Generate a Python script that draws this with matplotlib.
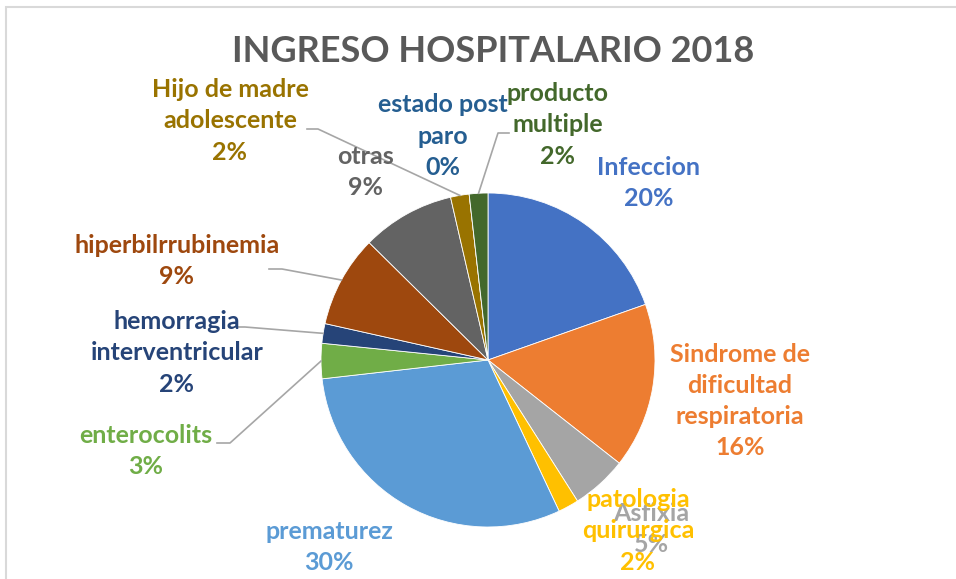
import numpy as np
import matplotlib
matplotlib.use('Agg')
import matplotlib.pyplot as plt
from matplotlib.patches import Rectangle

# Data (percentages, clockwise from 12 o'clock)
categories = ['Infeccion', 'Sindrome de\ndificultad\nrespiratoria', 'Asfixia',
              'patologia\nquirurgica', 'prematurez', 'enterocolits',
              'hemorragia\ninterventricular', 'hiperbilrrubinemia', 'otras',
              'Hijo de madre\nadolescente', 'estado post\nparo', 'producto\nmultiple']
values = [19.6, 16.0, 5.4, 2.0, 30.2, 3.4, 1.9, 8.9, 9.0, 1.8, 0.0, 1.8]
colors = ['#4472C4', '#ED7D31', '#A5A5A5', '#FFC000', '#5B9BD5', '#70AD47',
          '#264478', '#9E480E', '#636363', '#997300', '#255E91', '#43682B']

W, H = 956, 579

def Y(y):
    # convert pixel row (from top) to axis y
    return H - y

# label block centres in pixels (x, y from top)
label_pos = [(649, 183), (740, 401), (651, 529), (638, 531), (329, 547),
             (146, 451), (177, 353), (177, 261), (366, 172), (230, 121),
             (443, 136), (558, 125)]
# leader line start points (label side), None = no line
leader_start = [None, None, None, None, None,
                [(217, 443), (230, 443)],
                [(235, 327), (245, 327)],
                [(269, 269), (282, 269)],
                None,
                [(307, 129), (318, 129)],
                None,
                [(509, 133), (498, 133)]]

plt.rcParams['font.family'] = ['Lato', 'DejaVu Sans']

fig = plt.figure(figsize=(W / 100, H / 100), dpi=100)
ax = fig.add_axes([0, 0, 1, 1])

# chart frame
ax.add_patch(Rectangle((6, -10), W + 20, Y(7) + 10, fill=False,
                       edgecolor='#D9D9D9', linewidth=1.5))

cx, cy, r = 488, Y(360), 167
wedges, _ = ax.pie(values, colors=colors, startangle=90, counterclock=False,
                   center=(cx, cy), radius=r, frame=True,
                   wedgeprops=dict(edgecolor='white', linewidth=0.6))
ax.set_xlim(0, W)
ax.set_ylim(0, H)
ax.set_aspect('equal')
ax.axis('off')

# title
ax.text(493, Y(52), 'INGRESO HOSPITALARIO 2018', ha='center', va='center',
        fontsize=26, fontweight='bold', color='#595959')

# data labels
for i, (name, v) in enumerate(zip(categories, values)):
    lx, ly = label_pos[i]
    ax.text(lx, Y(ly), f'{name}\n{v:.0f}%', ha='center', va='center',
            fontsize=18, fontweight='bold', color=colors[i],
            linespacing=1.43, zorder=5 + i)
    if leader_start[i] is not None:
        w = wedges[i]
        mid = np.deg2rad((w.theta1 + w.theta2) / 2)
        px, py = cx + r * np.cos(mid), cy + r * np.sin(mid)
        xs = [p[0] for p in leader_start[i]] + [px]
        ys = [Y(p[1]) for p in leader_start[i]] + [py]
        ax.plot(xs, ys, color='#A6A6A6', linewidth=1.2, zorder=4)

fig.savefig('out.png', dpi=100)
